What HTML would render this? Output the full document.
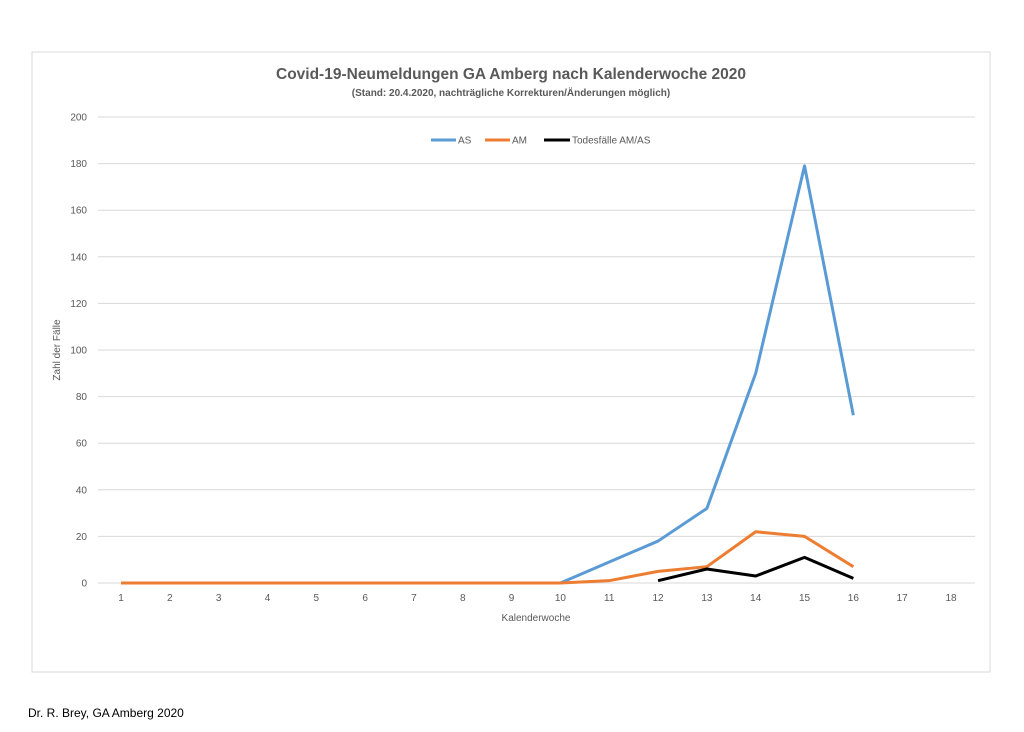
<!DOCTYPE html>
<html><head><meta charset="utf-8"><style>
html,body{margin:0;padding:0;background:#fff;width:1024px;height:732px;overflow:hidden;font-family:"Liberation Sans",sans-serif}
</style></head><body>
<svg id="chart" width="1024" height="732" xmlns="http://www.w3.org/2000/svg">
<rect x="32" y="52" width="958" height="620" fill="#fff" stroke="#d9d9d9"/>
<text x="511" y="79" text-anchor="middle" font-size="15.5" font-weight="bold" fill="#595959">Covid-19-Neumeldungen GA Amberg nach Kalenderwoche 2020</text>
<text x="511" y="96" text-anchor="middle" font-size="10" font-weight="bold" fill="#595959">(Stand: 20.4.2020,  nachträgliche Korrekturen/Änderungen möglich)</text>
<g id="grid"></g><g id="lines"></g>
<text transform="translate(60,350) rotate(-90)" text-anchor="middle" font-size="10" fill="#595959">Zahl der Fälle</text>
<text x="536" y="621" text-anchor="middle" font-size="10" fill="#595959">Kalenderwoche</text>
<g font-size="10" fill="#595959">
<line x1="431" y1="140" x2="456" y2="140" stroke="#5b9bd5" stroke-width="3"/><text x="458" y="143.5">AS</text>
<line x1="485" y1="140" x2="510" y2="140" stroke="#ed7d31" stroke-width="3"/><text x="512" y="143.5">AM</text>
<line x1="544" y1="140" x2="570" y2="140" stroke="#000" stroke-width="3"/><text x="572" y="143.5">Todesfälle AM/AS</text>
</g>
<text x="28" y="717" font-size="12" fill="#000">Dr. R. Brey, GA Amberg 2020</text>
</svg>
<script>
const weeks=[1,2,3,4,5,6,7,8,9,10,11,12,13,14,15,16,17,18];
const yTicks=[0,20,40,60,80,100,120,140,160,180,200];
const asVals=[0,0,0,0,0,0,0,0,0,0,9,18,32,90,179,72,null,null];
const amVals=[0,0,0,0,0,0,0,0,0,0,1,5,7,22,20,7,null,null];
const deathVals=[null,null,null,null,null,null,null,null,null,null,null,1,6,3,11,2,null,null];
const NS="http://www.w3.org/2000/svg";
const x=i=>121+i*(951-121)/17;
const y=v=>583-v*(583-117)/200;
const grid=document.getElementById('grid'),lines=document.getElementById('lines');
function mk(t,a,p){const e=document.createElementNS(NS,t);for(const k in a)e.setAttribute(k,a[k]);p.appendChild(e);return e;}
yTicks.forEach(v=>{
 const l=mk('line',{x1:98,x2:975,y1:y(v),y2:y(v),stroke:'#d9d9d9'},grid);
 
 
 const t=mk('text',{x:87,y:y(v)+3.5,'text-anchor':'end','font-size':10,fill:'#595959'},grid);t.textContent=v;
 
 
});
weeks.forEach((w,i)=>{
 const t=mk('text',{x:x(i),y:601,'text-anchor':'middle','font-size':10,fill:'#595959'},grid);t.textContent=w;
 
 
});
function series(vals,color,name){
 const pts=[];vals.forEach((v,i)=>{if(v!==null)pts.push(x(i)+','+y(v));});
 const p=mk('polyline',{points:pts.join(' '),fill:'none',stroke:color,'stroke-width':3,'stroke-linejoin':'round'},lines);
 
 
}
series(asVals,'#5b9bd5','series-as');
series(amVals,'#ed7d31','series-am');
series(deathVals,'#000','series-deaths');
</script>
</body></html>
